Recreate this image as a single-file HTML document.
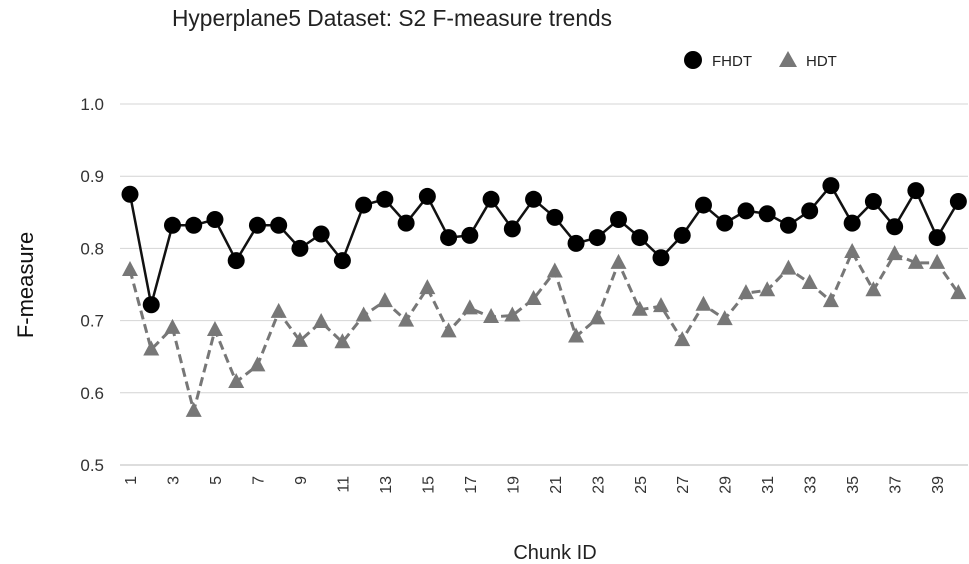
<!DOCTYPE html>
<html><head><meta charset="utf-8"><style>
html,body{margin:0;padding:0;background:#fff;width:969px;height:564px;overflow:hidden}
svg text{font-family:"Liberation Sans",sans-serif}
</style></head><body>
<svg id="c" width="969" height="564" xmlns="http://www.w3.org/2000/svg">
<text x="172" y="26" font-size="23" fill="#222" textLength="440" lengthAdjust="spacingAndGlyphs">Hyperplane5 Dataset: S2 F-measure trends</text>
<circle cx="693" cy="60" r="9" fill="#000"/>
<text x="712" y="66" font-size="15" fill="#222">FHDT</text>
<polygon points="788,51 797,67 779,67" fill="#777"/>
<text x="806" y="66" font-size="15" fill="#222">HDT</text>
<text x="33" y="285" font-size="22" fill="#111" transform="rotate(-90 33 285)" text-anchor="middle">F-measure</text>
<text x="555" y="559" font-size="20" fill="#222" text-anchor="middle">Chunk ID</text>
<g id="g"></g>
</svg>
<script>
var F=[0.875,0.722,0.832,0.832,0.84,0.783,0.832,0.832,0.80,0.82,0.783,0.86,0.868,0.835,0.872,0.815,0.818,0.868,0.827,0.868,0.843,0.807,0.815,0.84,0.815,0.787,0.818,0.86,0.835,0.852,0.848,0.832,0.852,0.887,0.835,0.865,0.83,0.88,0.815,0.865];
var H=[0.77,0.66,0.69,0.575,0.687,0.615,0.638,0.712,0.672,0.698,0.67,0.707,0.727,0.70,0.745,0.685,0.717,0.705,0.707,0.73,0.768,0.678,0.703,0.78,0.715,0.72,0.673,0.722,0.702,0.738,0.742,0.772,0.752,0.727,0.795,0.742,0.792,0.78,0.78,0.738];
function X(i){return 130+i*21.24}function Y(v){return 465-(v-0.5)*722}
var s="";
for(var k=0;k<=5;k++){var v=0.5+k*0.1,y=Y(v);s+='<line x1="120" x2="968" y1="'+y+'" y2="'+y+'" stroke="'+(k==0?'#bbb':'#d4d4d4')+'" stroke-width="1"/>';s+='<text x="104" y="'+(y+6)+'" font-size="17" fill="#333" text-anchor="end">'+v.toFixed(1)+'</text>';}
for(var i=0;i<40;i+=2){var x=X(i);s+='<text x="'+(x+6)+'" y="476" font-size="16" fill="#333" text-anchor="end" transform="rotate(-90 '+(x+6)+' 476)">'+(i+1)+'</text>';}
var p=H.map(function(v,i){return X(i)+","+Y(v)}).join(" ");
s+='<polyline points="'+p+'" fill="none" stroke="#777" stroke-width="3" stroke-dasharray="9,5"/>';
H.forEach(function(v,i){var x=X(i),y=Y(v);s+='<polygon points="'+x+','+(y-9)+' '+(x+8)+','+(y+6)+' '+(x-8)+','+(y+6)+'" fill="#777"/>';});
p=F.map(function(v,i){return X(i)+","+Y(v)}).join(" ");
s+='<polyline points="'+p+'" fill="none" stroke="#111" stroke-width="2.5"/>';
F.forEach(function(v,i){s+='<circle cx="'+X(i)+'" cy="'+Y(v)+'" r="8.5" fill="#000"/>';});
document.getElementById("g").innerHTML=s;
</script>
</body></html>
